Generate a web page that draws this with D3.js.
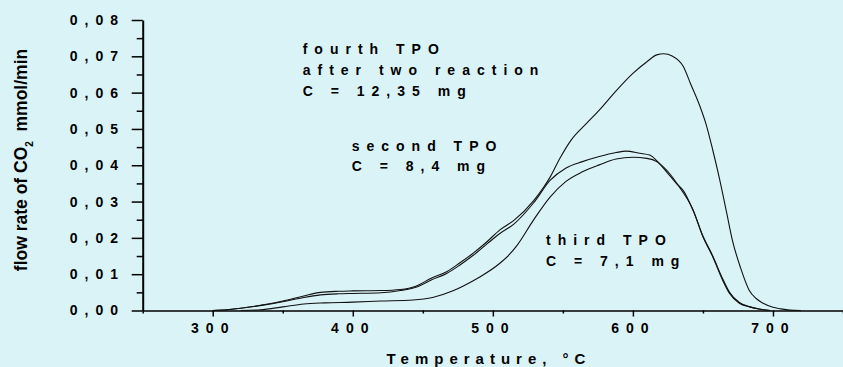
<!DOCTYPE html>
<html>
<head>
  <meta charset="UTF-8">
  <title>TPO flow rate of CO2</title>
  <script src="https://d3js.org/d3.v7.min.js"></script>
  <style>
    body {
      margin: 0;
      background: #daf3f7;
      font-family: "Liberation Sans", Arial, sans-serif;
    }
    .axis path, .axis line {
      stroke: #000;
    }
    .axis text {
      font-family: "Liberation Sans", Arial, sans-serif;
      font-size: 14px;
      font-weight: bold;
      letter-spacing: 7px;
      fill: #000;
    }
    .curve {
      fill: none;
      stroke: #111;
      stroke-width: 1.1;
    }
    .note {
      font-size: 14px;
      font-weight: bold;
      letter-spacing: 7px;
      fill: #000;
    }
    .title {
      font-weight: bold;
      fill: #000;
    }
  </style>
</head>
<body>
  <div id="chart"></div>
  <script>
    // x tick values and y tick values
    const xTicks = [300, 400, 500, 600, 700];
    const xMinor = [250, 350, 450, 550, 650, 750];
    const yTicks = [0, 0.01, 0.02, 0.03, 0.04, 0.05, 0.06, 0.07, 0.08];
    const yMinor = [0.005, 0.015, 0.025, 0.035, 0.045, 0.055, 0.065, 0.075];

    // fourth TPO, after two reaction, C = 12,35 mg
    const fourthTemp = [300, 310, 320, 335, 350, 365, 377, 390, 400, 420, 434, 445, 456, 467, 476, 486, 496, 505, 515, 529, 536, 541, 548, 556, 566, 576, 588, 600, 610, 617, 622, 628, 636, 641, 648, 652, 657, 662, 667, 671, 677, 683, 688, 693, 700, 705, 712, 720];
    const fourthFlow = [0, 0.0002, 0.0006, 0.0015, 0.0026, 0.004, 0.005, 0.0053, 0.0054, 0.0055, 0.0058, 0.0067, 0.0089, 0.0107, 0.013, 0.0158, 0.019, 0.0222, 0.0248, 0.0302, 0.0338, 0.0368, 0.042, 0.047, 0.0512, 0.0552, 0.0605, 0.0653, 0.0685, 0.0704, 0.0707, 0.0701, 0.0672, 0.0626, 0.0561, 0.0516, 0.0442, 0.036, 0.0268, 0.0194, 0.0116, 0.0056, 0.0033, 0.002, 0.0009, 0.0005, 0.0001, 0];

    // second TPO, C = 8,4 mg
    const secondTemp = [300, 310, 320, 335, 350, 365, 377, 390, 400, 420, 434, 445, 456, 467, 476, 486, 496, 505, 515, 529, 541, 552, 564, 576, 588, 595, 605, 612, 619, 626, 633, 643, 650, 657, 664, 669, 676, 683, 690, 698];
    const secondFlow = [0, 0.0002, 0.0006, 0.0014, 0.0024, 0.0036, 0.0043, 0.0046, 0.0047, 0.0049, 0.0055, 0.0064, 0.0084, 0.0102, 0.0124, 0.0152, 0.0184, 0.0212, 0.0238, 0.0296, 0.0359, 0.0392, 0.041, 0.0424, 0.0435, 0.0439, 0.0433, 0.0428, 0.0405, 0.0378, 0.0341, 0.0277, 0.0203, 0.0148, 0.0084, 0.0047, 0.002, 0.001, 0.0004, 0];

    // third TPO, C = 7,1 mg
    const thirdTemp = [320, 334, 350, 365, 380, 400, 420, 443, 457, 472, 486, 491, 505, 512, 517, 529, 541, 552, 564, 576, 588, 600, 610, 617, 624, 631, 636, 643, 650, 657, 664, 669, 676, 683, 690, 698];
    const thirdFlow = [0, 0.0002, 0.001, 0.0018, 0.0021, 0.0023, 0.0026, 0.0029, 0.0036, 0.0055, 0.0082, 0.0093, 0.013, 0.0155, 0.0178, 0.0249, 0.0313, 0.0355, 0.0382, 0.0401, 0.0417, 0.0422, 0.0419, 0.041, 0.0382, 0.035, 0.033, 0.0275, 0.0205, 0.015, 0.0088, 0.005, 0.0022, 0.0011, 0.0004, 0];

    const width = 843, height = 367;
    const plot = { left: 142.7, right: 843, top: 20, bottom: 310.5 };

    const svg = d3.select("#chart")
      .append("svg")
      .attr("width", width)
      .attr("height", height);

    const x = d3.scaleLinear().domain([250, 750]).range([plot.left, plot.right]);
    const y = d3.scaleLinear().domain([0, 0.08]).range([plot.bottom, plot.top]);

    // minor ticks first
    svg.append("g")
      .attr("class", "axis")
      .attr("transform", `translate(0, ${plot.bottom})`)
      .call(d3.axisBottom(x).tickValues(xMinor).tickSize(3).tickFormat(""))
      .call(g => g.select(".domain").remove())
      .selectAll("line").attr("stroke-width", 1.5);

    svg.append("g")
      .attr("class", "axis")
      .attr("transform", `translate(${plot.left}, 0)`)
      .call(d3.axisLeft(y).tickValues(yMinor).tickSize(6).tickFormat(""))
      .call(g => g.select(".domain").remove())
      .selectAll("line").attr("stroke-width", 1.5);

    svg.append("g")
      .attr("class", "axis")
      .attr("transform", `translate(0, ${plot.bottom})`)
      .call(d3.axisBottom(x).tickValues(xTicks).tickSize(6).tickSizeOuter(0).tickPadding(7).tickFormat(d3.format("d")))
      .call(g => g.select(".domain").attr("stroke-width", 1.5))
      .selectAll("line").attr("stroke-width", 1.5);

    svg.append("g")
      .attr("class", "axis")
      .attr("transform", `translate(${plot.left}, 0)`)
      .call(d3.axisLeft(y).tickValues(yTicks).tickSize(11).tickSizeOuter(0).tickPadding(6.7)
        .tickFormat(d => d3.format(".2f")(d).replace(".", ",")))
      .call(g => g.select(".domain").attr("stroke-width", 2))
      .selectAll("line").attr("stroke-width", 1.5);

    const line = d3.line()
      .x(d => x(d[0]))
      .y(d => y(d[1]))
      .curve(d3.curveMonotoneX);

    const series = [
      d3.zip(fourthTemp, fourthFlow),
      d3.zip(secondTemp, secondFlow),
      d3.zip(thirdTemp, thirdFlow)
    ];

    svg.selectAll(".curve")
      .data(series)
      .enter()
      .append("path")
      .attr("class", "curve")
      .attr("d", line);

    // annotations
    const notes = [
      { text: "fourth TPO", x: 302.7, y: 54 },
      { text: "after two reaction", x: 302.7, y: 75 },
      { text: "C = 12,35 mg", x: 302.7, y: 96 },
      { text: "second TPO", x: 351.7, y: 151 },
      { text: "C = 8,4 mg", x: 351.7, y: 171 },
      { text: "third TPO", x: 546, y: 245 },
      { text: "C = 7,1 mg", x: 546, y: 266 }
    ];

    svg.selectAll(".note")
      .data(notes)
      .enter()
      .append("text")
      .attr("class", "note")
      .attr("x", d => d.x)
      .attr("y", d => d.y)
      .style("white-space", "pre")
      .text(d => d.text);

    // axis titles
    svg.append("text")
      .attr("class", "title")
      .attr("x", 489)
      .attr("y", 364)
      .attr("text-anchor", "middle")
      .style("font-size", "15px")
      .style("letter-spacing", "6px")
      .text("Temperature, °C");

    const yTitle = svg.append("text")
      .attr("class", "title")
      .attr("transform", "translate(27, 160) rotate(-90)")
      .attr("text-anchor", "middle")
      .style("font-size", "17.5px");
    yTitle.append("tspan").text("flow rate of CO");
    yTitle.append("tspan").attr("dy", 6).style("font-size", "10px").text("2");
    yTitle.append("tspan").attr("dy", -6).text("  mmol/min").style("white-space", "pre");
  </script>
</body>
</html>
